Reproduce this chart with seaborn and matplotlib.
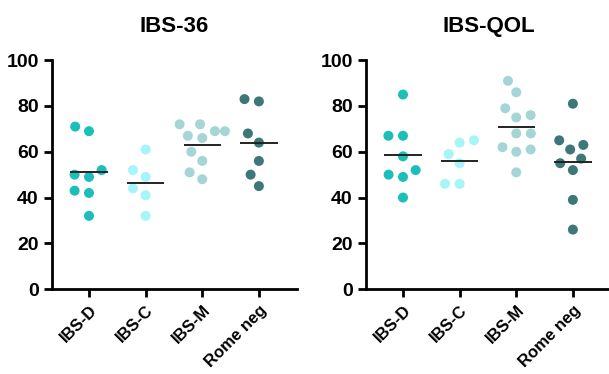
import numpy as np
import pandas as pd
import matplotlib
matplotlib.use("Agg")
import matplotlib.pyplot as plt
import seaborn as sns

sns.set_style("ticks")
plt.rcParams['font.family'] = ['Liberation Sans', 'DejaVu Sans']
plt.rcParams['font.weight'] = 'bold'
plt.rcParams['text.color'] = 'black'
plt.rcParams['xtick.color'] = 'black'
plt.rcParams['ytick.color'] = 'black'
plt.rcParams['axes.labelcolor'] = 'black'

categories = ["IBS-D", "IBS-C", "IBS-M", "Rome neg"]
colors = ["#1BBFB9", "#A6F5F8", "#A6D5D6", "#3D7778"]

ibs36_D = [69, 71, 52, 49, 50, 43, 42, 32]
ibs36_C = [61, 52, 49, 44, 41, 32]
ibs36_M = [72, 72, 69, 69, 66, 67, 60, 56, 51, 48]
ibs36_R = [83, 82, 68, 64, 56, 50, 45]

qol_D = [85, 67, 67, 58, 52, 49, 50, 40]
qol_C = [64, 65, 59, 55, 46, 46]
qol_M = [91, 86, 76, 79, 75, 68, 68, 62, 60, 61, 51]
qol_R = [81, 63, 65, 61, 57, 55, 52, 39, 26]

yticks = [0, 20, 40, 60, 80, 100]
titles = ["IBS-36", "IBS-QOL"]


def long_df(groups):
    rows = []
    for cat, vals in zip(categories, groups):
        for v in vals:
            rows.append((cat, v))
    return pd.DataFrame(rows, columns=["group", "score"])


datasets = [long_df([ibs36_D, ibs36_C, ibs36_M, ibs36_R]),
            long_df([qol_D, qol_C, qol_M, qol_R])]

fig = plt.figure(figsize=(6.09, 3.74), dpi=100)
lefts = [0.0854, 0.601]
pal = dict(zip(categories, colors))
axes = []

for left, df, title in zip(lefts, datasets, titles):
    ax = fig.add_axes([left, 0.227, 0.402, 0.612])
    # swarm laid out with a wider spacing (Prism-like), markers shrunk afterwards
    sns.swarmplot(data=df, x="group", y="score", hue="group", order=categories,
                  palette=pal, size=10, legend=False, ax=ax, linewidth=0)
    ax.set_ylim(0, 100)
    ax.set_xlim(-0.653, 3.67)
    axes.append((ax, df, title))

fig.canvas.draw()
for ax, df, title in axes:
    for coll in list(ax.collections):
        if "draw" in coll.__dict__:
            del coll.draw
        coll.set_sizes([7.2 ** 2])

for ax, df, title in axes:
    means = df.groupby("group")["score"].mean()
    for i, cat in enumerate(categories):
        ax.hlines(means[cat], i - 0.33, i + 0.33, color="#222222", lw=1.4, zorder=5)
    ax.set_yticks(yticks)
    ax.set_xlabel("")
    ax.set_ylabel("")
    ax.set_title(title, fontsize=16, fontweight="bold", pad=20, color="black")
    sns.despine(ax=ax)
    for s in ["left", "bottom"]:
        ax.spines[s].set_linewidth(2)
        ax.spines[s].set_color("black")
    ax.tick_params(axis="both", width=2, length=6, color="black", labelsize=14,
                   labelcolor="black")
    ax.set_xticks(range(len(categories)))
    ax.set_xticklabels(categories, rotation=45, ha="right", rotation_mode="anchor",
                       fontsize=12, fontweight="bold")
    for lab in ax.get_yticklabels():
        lab.set_fontweight("bold")
    ax.spines["left"].set_bounds(0, 100)

fig.savefig("out.png", dpi=100)
